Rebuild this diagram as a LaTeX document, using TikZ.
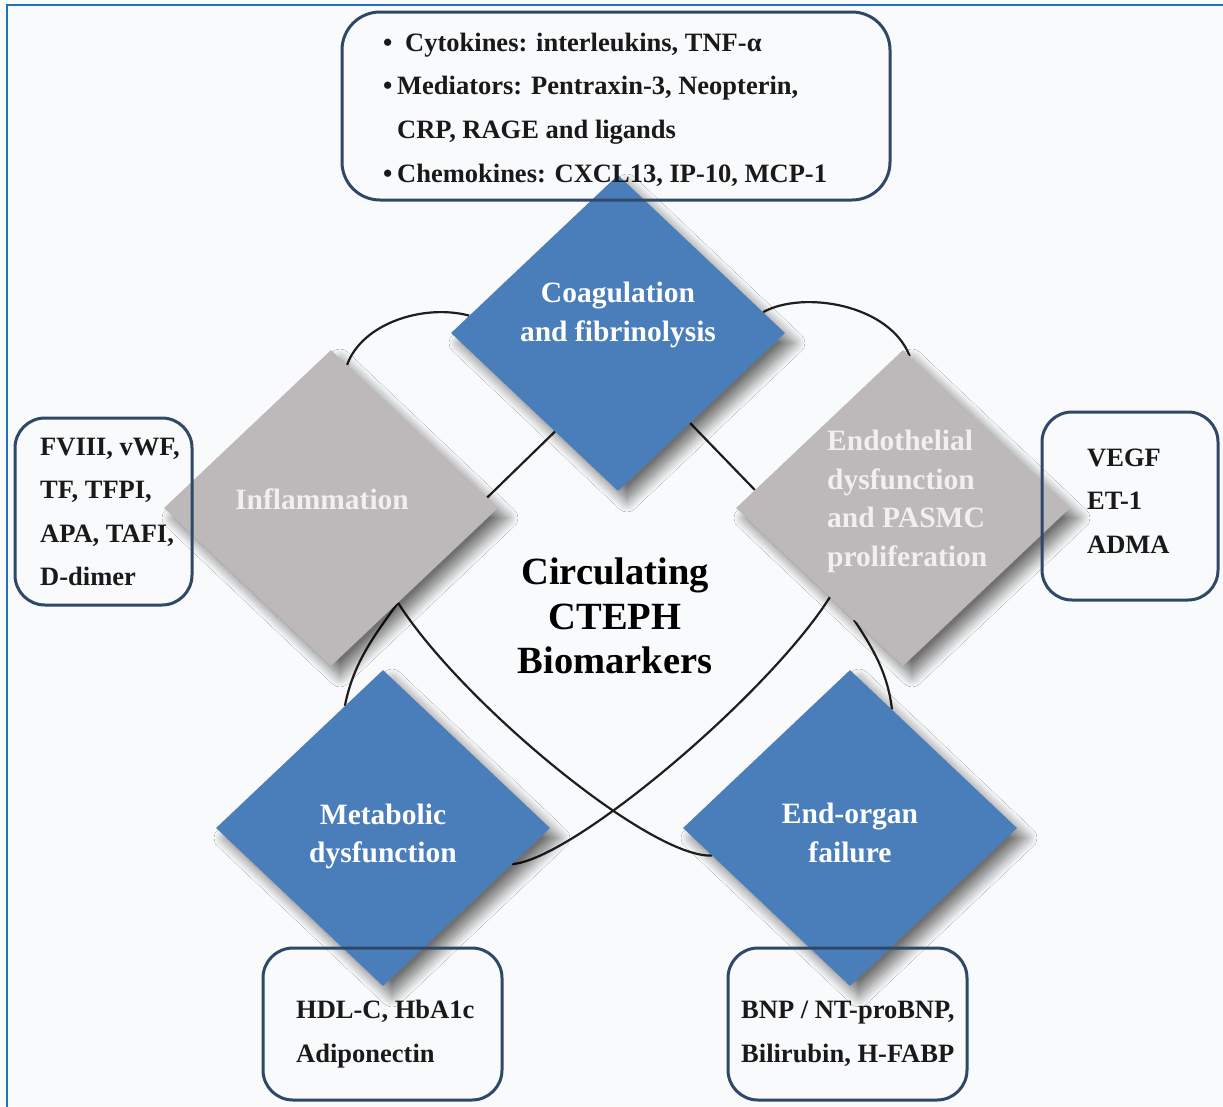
\documentclass[tikz,border=0pt]{standalone}
\usepackage{fontspec}
\setmainfont{Liberation Serif}
\usetikzlibrary{shapes.geometric,calc,shadows.blur}
\definecolor{bgc}{RGB}{249,250,251}
\definecolor{dblue}{RGB}{74,126,186}
\definecolor{dgray}{RGB}{189,184,185}
\definecolor{boxline}{RGB}{47,72,104}
\definecolor{frameblue}{RGB}{30,112,192}
\definecolor{curvec}{RGB}{30,30,30}
\definecolor{txt}{RGB}{25,25,25}
\pgfdeclarelayer{bg}
\pgfsetlayers{bg,main}
\begin{document}
\begin{tikzpicture}[x=1pt,y=-1pt,
  dia/.style={shape=diamond, minimum width=334pt, minimum height=316pt, inner sep=0pt,
     blur shadow={shadow xshift=9pt, shadow yshift=-10pt, shadow blur radius=11pt, shadow opacity=55, shadow blur steps=14}},
  bluedia/.style={dia, fill=dblue},
  graydia/.style={dia, fill=dgray},
  dlabel/.style={text=white, font=\fontsize{29.5}{38.5}\selectfont\bfseries, align=center, inner sep=0pt},
  infobox/.style={draw=boxline, line width=3pt, rounded corners=30pt, inner sep=0pt},
  infotext/.style={text=txt, font=\fontsize{26.5}{43.6}\selectfont\bfseries, align=left, anchor=west, inner sep=0pt},
  link/.style={draw=curvec, line width=2.2pt},
]
\useasboundingbox (0,0) rectangle (1223,1106);

% diamonds
\node[graydia] (infl) at (331,508) {};
\node[bluedia] (coag) at (618,333) {};
\node[graydia] (endo) at (903,508) {};
\node[bluedia] (meta) at (383,828) {};
\node[bluedia] (organ) at (850,828) {};

% diamond labels
\node[dlabel] (coagT) at (618,315) {Coagulation\\and fibrinolysis};
\node[dlabel, text=white!94!black] (inflT) at (322,499.5) {Inflammation};
\node[dlabel, text=white!94!black, align=left, anchor=west] (endoT) at (827,501.5) {Endothelial\\dysfunction\\and PASMC\\proliferation};
\node[dlabel] (metaT) at (383,836.5) {Metabolic\\dysfunction};
\node[dlabel] (organT) at (850,833) {End-organ\\failure};

% centre text
\node[text=black, font=\fontsize{38.5}{44.5}\selectfont\bfseries, align=center, inner sep=0pt] (centre) at (615,616) {Circulating\\CTEPH\\Biomarkers};

% boxes
\node[infobox, minimum width=548pt, minimum height=188pt, rounded corners=38pt] (topbox) at (616,106) {};
\node[infobox, minimum width=177pt, minimum height=187pt] (lbox) at (103.5,511.5) {};
\node[infobox, minimum width=176pt, minimum height=188pt] (rbox) at (1130,506) {};
\node[infobox, minimum width=239pt, minimum height=152pt] (blbox) at (382.5,1024) {};
\node[infobox, minimum width=239pt, minimum height=152pt] (brbox) at (847.5,1024) {};

% box texts
\node[infotext] (topT) at (383,109.5) {\makebox[22pt][l]{\textbullet}Cytokines: interleukins, TNF-α\\\makebox[14pt][l]{\textbullet}Mediators: Pentraxin-3, Neopterin,\\\hspace*{14pt}CRP, RAGE and ligands\\\makebox[14pt][l]{\textbullet}Chemokines: CXCL13, IP-10, MCP-1};
\node[infotext] (lT) at (40,512) {FVIII, vWF,\\TF, TFPI,\\APA, TAFI,\\D-dimer};
\node[infotext] (rT) at (1087,501) {VEGF\\ET-1\\ADMA};
\node[infotext] (blT) at (296,1034) {HDL-C, HbA1c\\Adiponectin};
\node[infotext] (brT) at (741,1034) {BNP / NT-proBNP,\\Bilirubin, H-FABP};

% background and connectors
\begin{pgfonlayer}{bg}
\fill[bgc] (0,0) rectangle (1223,1106);
\coordinate (jl) at ($(infl.south)!0.401!(infl.east)$);
\draw[link] ($(infl.north)!0.096!(infl.east)$) .. controls +(15,-42) and +(-45,-12) .. ($(coag.west)!0.11!(coag.north)$);
\draw[link] ($(coag.north)!0.868!(coag.east)$) .. controls +(40,-22) and +(-20,-52) .. ($(endo.north)!0.04!(endo.east)$);
\draw[link] ($(coag.south)!0.377!(coag.west)$) -- ($(infl.north)!0.934!(infl.east)$);
\draw[link] ($(coag.south)!0.431!(coag.east)$) -- ($(endo.west)!0.114!(endo.north)$);
\draw[link] (jl) .. controls +(-28,38) and +(8,-40) .. ($(meta.west)!0.772!(meta.north)$);
\draw[link] (jl) .. controls +(62,98) and +(-62,3) .. ($(organ.west)!0.174!(organ.south)$);
\draw[link] ($(endo.west)!0.563!(endo.south)$) .. controls +(-62,98) and +(60,-4) .. ($(meta.east)!0.228!(meta.south)$);
\draw[link] ($(endo.west)!0.707!(endo.south)$) .. controls +(20,30) and +(-4,-35) .. ($(organ.north)!0.251!(organ.east)$);
\end{pgfonlayer}

% frame
\draw[frameblue, line width=2.5pt] (7,1110) -- (7,5) -- (1230,5);
\end{tikzpicture}
\end{document}
